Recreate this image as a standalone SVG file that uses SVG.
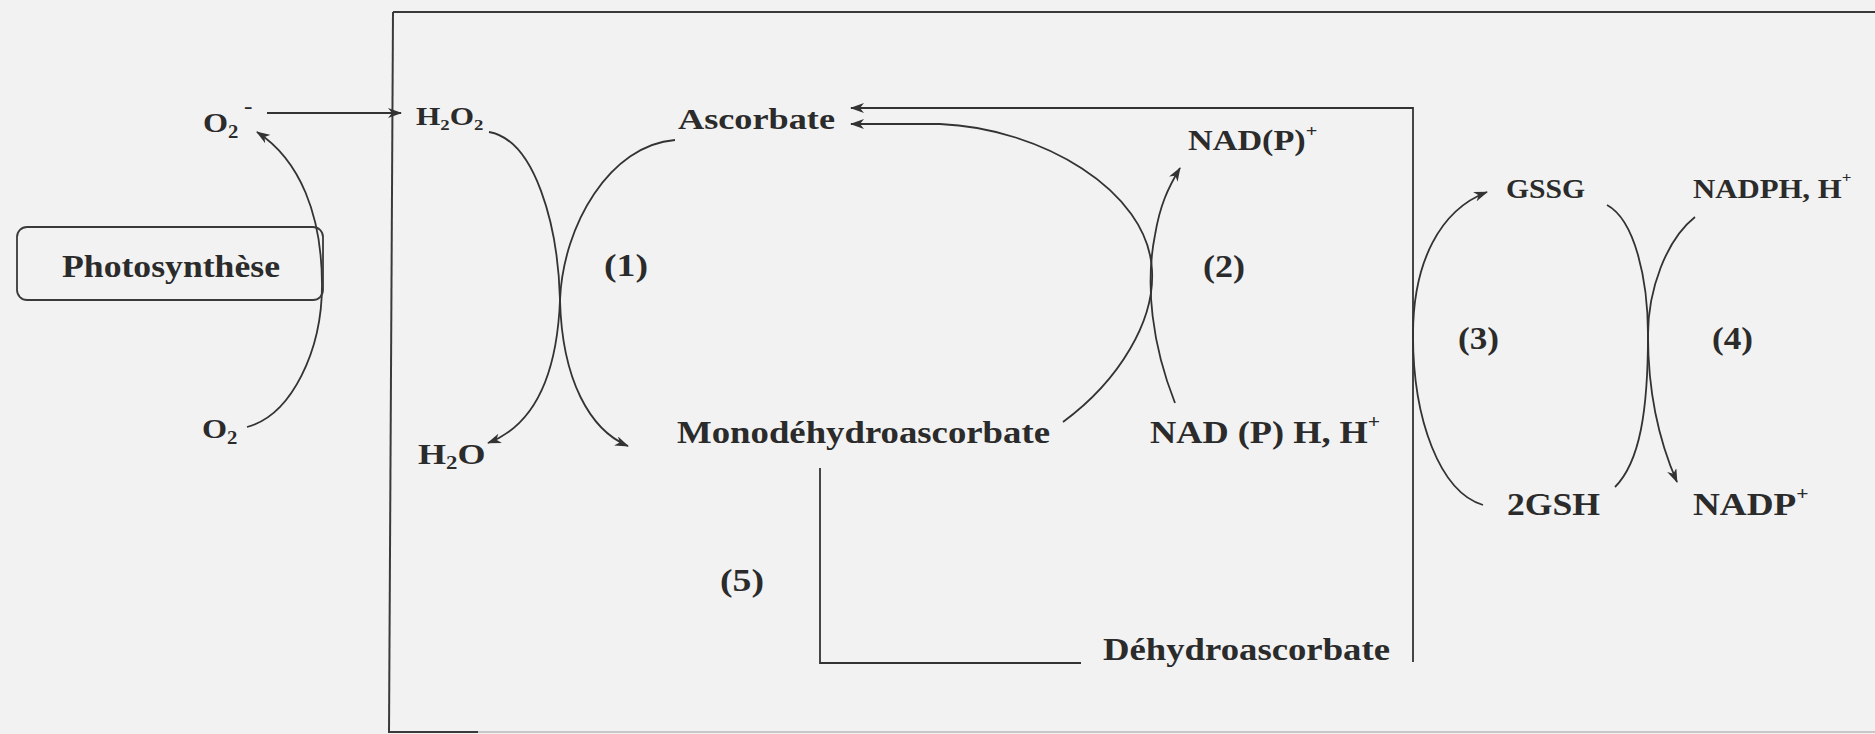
<svg xmlns="http://www.w3.org/2000/svg" width="1875" height="734" viewBox="0 0 1875 734">
<style>
.t{font-family:"Liberation Serif","Times New Roman",serif;font-weight:bold;fill:#2b2b2b}
.ln{fill:none;stroke:#333;stroke-width:1.8}
.fr{fill:none;stroke:#3a3a3a;stroke-width:2}
</style>
<defs>
<marker id="ah" viewBox="0 0 14 10" refX="13" refY="5" markerWidth="14" markerHeight="10" markerUnits="userSpaceOnUse" orient="auto">
<path d="M0,0 L14,5 L0,10 L4,5 z" fill="#333"/>
</marker>
</defs>
<rect x="0" y="0" width="1875" height="734" fill="#f2f2f2"/>

<g id="frame">
<line class="fr" x1="393" y1="12" x2="1875" y2="12"/>
<line class="fr" x1="393" y1="12" x2="389" y2="733"/>
<line class="fr" x1="389" y1="732" x2="478" y2="732"/>
<line x1="478" y1="732" x2="1875" y2="732" stroke="#c8c8c8" stroke-width="2"/>
</g>

<g id="connectors">
<path class="ln" d="M267,113 L401,113" marker-end="url(#ah)"/>
<path class="ln" d="M247,427 C292,415 322,350 322,285 C322,215 300,160 257,132" marker-end="url(#ah)"/>
<path class="ln" d="M489,132 C535,140 558,225 560,300 C562,380 590,430 628,446" marker-end="url(#ah)"/>
<path class="ln" d="M675,140 C610,145 563,225 560,300 C557,375 535,425 488,443" marker-end="url(#ah)"/>
<path class="ln" d="M1063,422 C1120,380 1155,320 1152,270 C1148,190 1040,128 940,124 L851,124" marker-end="url(#ah)"/>
<path class="ln" d="M1175,403 C1152,345 1145,285 1155,235 C1160,205 1168,188 1180,168" marker-end="url(#ah)"/>
<path class="ln" d="M1413,662 L1413,108 L851,108" marker-end="url(#ah)"/>
<path class="ln" d="M820,468 L820,663 L1081,663"/>
<path class="ln" d="M1483,505 C1440,492 1413,420 1413,335 C1413,262 1440,210 1487,192" marker-end="url(#ah)"/>
<path class="ln" d="M1607,205 C1635,220 1648,280 1648,335 C1648,400 1662,448 1677,482" marker-end="url(#ah)"/>
<path class="ln" d="M1695,217 C1666,240 1648,290 1648,335 C1648,410 1640,462 1615,487"/>
</g>

<g id="n-photosynthese">
<rect x="17" y="227" width="306" height="73" rx="10" fill="none" stroke="#3a3a3a" stroke-width="1.8"/>
<text class="t" x="62" y="277" font-size="31" textLength="218" lengthAdjust="spacingAndGlyphs">Photosynthèse</text>
</g>
<g id="n-o2minus"><text class="t" font-size="28" transform="translate(203,132) scale(1.15,1)">O<tspan font-size="18" dy="6">2</tspan><tspan font-size="22" dx="5" dy="-25">-</tspan></text></g>
<g id="n-o2"><text class="t" font-size="28" transform="translate(202,438) scale(1.15,1)">O<tspan font-size="18" dy="6">2</tspan></text></g>
<g id="n-h2o2"><text class="t" font-size="25" transform="translate(416,125) scale(1.25,1)">H<tspan font-size="15" dy="5">2</tspan><tspan dy="-5">O</tspan><tspan font-size="15" dy="5">2</tspan></text></g>
<g id="n-h2o"><text class="t" font-size="30" transform="translate(418,464) scale(1.2,1)">H<tspan font-size="19" dy="5">2</tspan><tspan dy="-5">O</tspan></text></g>
<g id="n-ascorbate"><text class="t" x="678" y="129" font-size="30" textLength="157" lengthAdjust="spacingAndGlyphs">Ascorbate</text></g>
<g id="n-mono"><text class="t" x="677" y="443" font-size="31" textLength="373" lengthAdjust="spacingAndGlyphs">Monodéhydroascorbate</text></g>
<g id="n-dha"><text class="t" x="1103" y="660" font-size="31" textLength="287" lengthAdjust="spacingAndGlyphs">Déhydroascorbate</text></g>
<g id="n-nadp-ox"><text class="t" font-size="28.5" transform="translate(1188,150) scale(1.2,1)">NAD(P)<tspan font-size="17" dy="-13">+</tspan></text></g>
<g id="n-nadph-red"><text class="t" font-size="32" transform="translate(1150,443) scale(1.135,1)">NAD (P) H, H<tspan font-size="19" dy="-15">+</tspan></text></g>
<g id="n-gssg"><text class="t" x="1506" y="198" font-size="27" textLength="79" lengthAdjust="spacingAndGlyphs">GSSG</text></g>
<g id="n-nadph"><text class="t" font-size="27" transform="translate(1693,198) scale(1.14,1)">NADPH, H<tspan font-size="15" dy="-16">+</tspan></text></g>
<g id="n-2gsh"><text class="t" x="1507" y="515" font-size="31" textLength="93" lengthAdjust="spacingAndGlyphs">2GSH</text></g>
<g id="n-nadp"><text class="t" font-size="31" transform="translate(1693,515) scale(1.2,1)">NADP<tspan font-size="18" dy="-15">+</tspan></text></g>
<g id="labels">
<text class="t" x="604" y="276" font-size="31" textLength="44" lengthAdjust="spacingAndGlyphs">(1)</text>
<text class="t" x="1203" y="277" font-size="31" textLength="42" lengthAdjust="spacingAndGlyphs">(2)</text>
<text class="t" x="1458" y="349" font-size="31" textLength="41" lengthAdjust="spacingAndGlyphs">(3)</text>
<text class="t" x="1712" y="349" font-size="31" textLength="41" lengthAdjust="spacingAndGlyphs">(4)</text>
<text class="t" x="720" y="591" font-size="31" textLength="44" lengthAdjust="spacingAndGlyphs">(5)</text>
</g>
</svg>
